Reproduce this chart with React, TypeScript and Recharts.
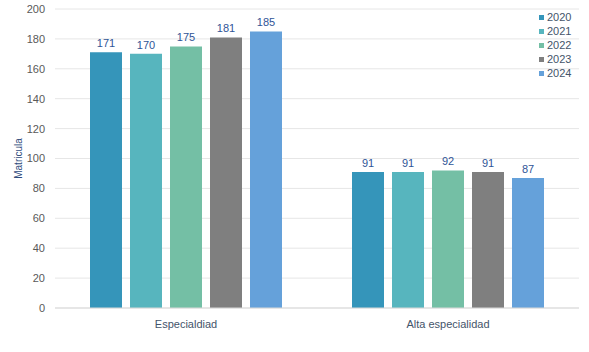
import React from "react";
import { BarChart, Bar, XAxis, YAxis, CartesianGrid, LabelList } from "recharts";

const categories = ["Especialdiad", "Alta especialidad"];
const years = ["2020", "2021", "2022", "2023", "2024"];
const values2020 = [171, 91];
const values2021 = [170, 91];
const values2022 = [175, 92];
const values2023 = [181, 91];
const values2024 = [185, 87];
const yTicks = [0, 20, 40, 60, 80, 100, 120, 140, 160, 180, 200];
const colors = ["#3595BA", "#57B5BE", "#74BFA5", "#7F7F7F", "#65A1DA"];

const series = [values2020, values2021, values2022, values2023, values2024];
const data = categories.map((c, i) => {
  const row: any = { name: c };
  years.forEach((y, j) => {
    row[y] = series[j][i];
  });
  return row;
});

const FONT = "'Liberation Sans', Arial, sans-serif";

export default function App() {
  return (
    <div style={{ position: "absolute", left: 0, top: 0, width: 589, height: 352, background: "#fff" }}>
      <BarChart
        width={589}
        height={352}
        data={data}
        margin={{ top: 9, right: 10, left: 0, bottom: 0 }}
        barCategoryGap={35}
        barGap={8}
        barSize={32}
      >
        <CartesianGrid vertical={false} stroke="#E6E6E6" />
        <XAxis
          dataKey="name"
          height={44}
          tickLine={false}
          axisLine={{ stroke: "#D9D9D9" }}
          tick={{ fill: "#44546A", fontSize: 11, fontFamily: FONT }}
          tickMargin={6}
        />
        <YAxis
          width={55}
          domain={[0, 200]}
          ticks={yTicks}
          tickLine={false}
          axisLine={false}
          tick={{ fill: "#595959", fontSize: 11, fontFamily: FONT }}
          tickMargin={4}
          label={{
            value: "Matricula",
            angle: -90,
            position: "insideLeft",
            offset: 18,
            style: { fill: "#2F4B7C", fontSize: 10, fontFamily: FONT, textAnchor: "middle" },
          }}
        />
        {years.map((y, i) => (
          <Bar key={y} dataKey={y} fill={colors[i]} isAnimationActive={false}>
            <LabelList
              dataKey={y}
              position="top"
              offset={5}
              fill="#2F5597"
              style={{ fill: "#2F5597", fontSize: 11, fontFamily: FONT }}
            />
          </Bar>
        ))}
      </BarChart>
      <div
        style={{
          position: "absolute",
          left: 539,
          top: 10,
          fontFamily: FONT,
          fontSize: 11,
          color: "#44546A",
          lineHeight: "14px",
        }}
      >
        {years.map((y, i) => (
          <div key={y} style={{ display: "flex", alignItems: "center", height: 14 }}>
            <span
              style={{ display: "inline-block", width: 5, height: 5, background: colors[i], marginRight: 3 }}
            />
            <span>{y}</span>
          </div>
        ))}
      </div>
    </div>
  );
}
